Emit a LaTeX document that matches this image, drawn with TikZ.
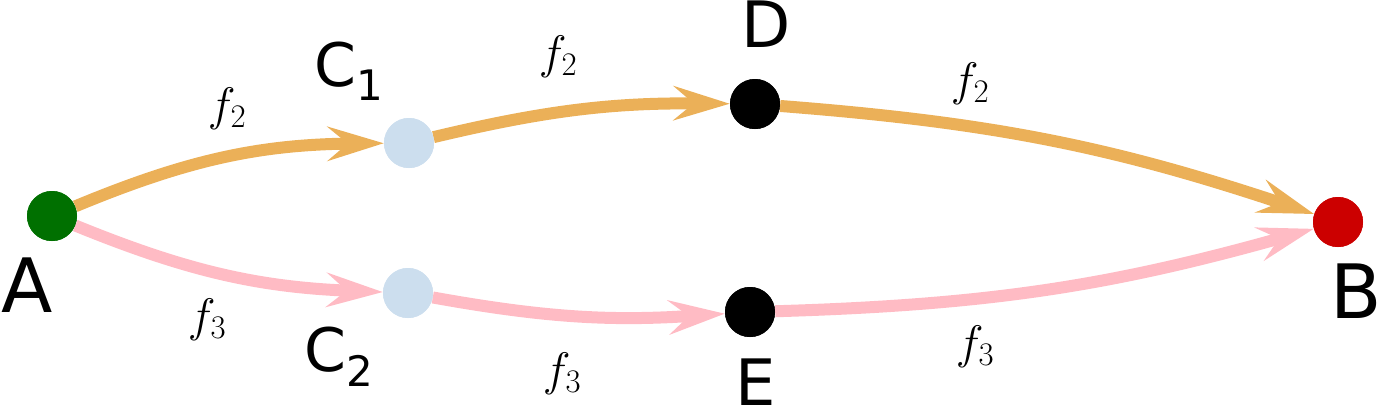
\RequirePackage{fix-cm}
\documentclass[tikz,border=0pt]{standalone}
\usepackage{fontspec}
\newfontfamily\lab{DejaVu Sans}
\usetikzlibrary{arrows.meta}
\definecolor{orng}{RGB}{235,176,88}
\definecolor{pnk}{RGB}{255,187,196}
\definecolor{lblue}{RGB}{204,222,238}
\definecolor{dgreen}{RGB}{0,112,0}
\definecolor{dred}{RGB}{204,0,0}
\begin{document}
\begin{tikzpicture}[x=1pt,y=-1pt,
  vert/.style={circle,minimum size=50pt,inner sep=0pt,fill=#1},
  big/.style={inner sep=0pt,font=\fontsize{75}{75}\lab},
  mid/.style={inner sep=0pt,font=\fontsize{64}{64}\lab},
  flab/.style={inner sep=0pt,font=\fontsize{47}{47}\selectfont},
  arr/.style={line width=12pt,draw=#1,-{Stealth[length=56pt,width=34pt,inset=20pt]}}]
\useasboundingbox (0,0) rectangle (1379,408);
% vertices
\node[vert=dgreen] (A) at (52,216) {};
\node[vert=lblue] (C1) at (409,143) {};
\node[vert=lblue] (C2) at (408,293) {};
\node[vert=black] (D) at (755,104) {};
\node[vert=black] (E) at (750,312) {};
\node[vert=dred] (B) at (1338,222) {};
% edges
\draw[arr=orng] (A) to[bend left=11] (C1);
\draw[arr=orng] (C1) to[bend left=7] (D);
\draw[arr=orng] (D) to[bend left=7] (B);
\draw[arr=pnk] (A) to[bend right=10] (C2);
\draw[arr=pnk] (C2) to[bend right=7] (E);
\draw[arr=pnk] (E) to[bend right=7] (B);
% redraw vertices on top of the edges
\node[vert=dgreen] at (A) {};
\node[vert=lblue] at (C1) {};
\node[vert=lblue] at (C2) {};
\node[vert=black] at (D) {};
\node[vert=black] at (E) {};
\node[vert=dred] at (B) {};
% labels
\node[big,anchor=base] (lA) at (27,312) {A};
\node[big,anchor=base] (lB) at (1356,318) {B};
\node[mid,anchor=base] (lD) at (766,47) {D};
\node[mid,anchor=base] (lE) at (756,405) {E};
\node[inner sep=0pt,anchor=base west] (lC1) at (314,86) {\fontsize{60}{60}\lab C\raisebox{-14pt}{\fontsize{42}{42}\lab 1}};
\node[inner sep=0pt,anchor=base west] (lC2) at (304,371) {\fontsize{60}{60}\lab C\raisebox{-15pt}{\fontsize{42}{42}\lab 2}};
\node[flab] (f1) at (227,109) {$f_2$};
\node[flab] (f2) at (558,57) {$f_2$};
\node[flab] (f3) at (970,84) {$f_2$};
\node[flab] (f4) at (207,320) {$f_3$};
\node[flab] (f5) at (562,374) {$f_3$};
\node[flab] (f6) at (975,347) {$f_3$};
\end{tikzpicture}
\end{document}
